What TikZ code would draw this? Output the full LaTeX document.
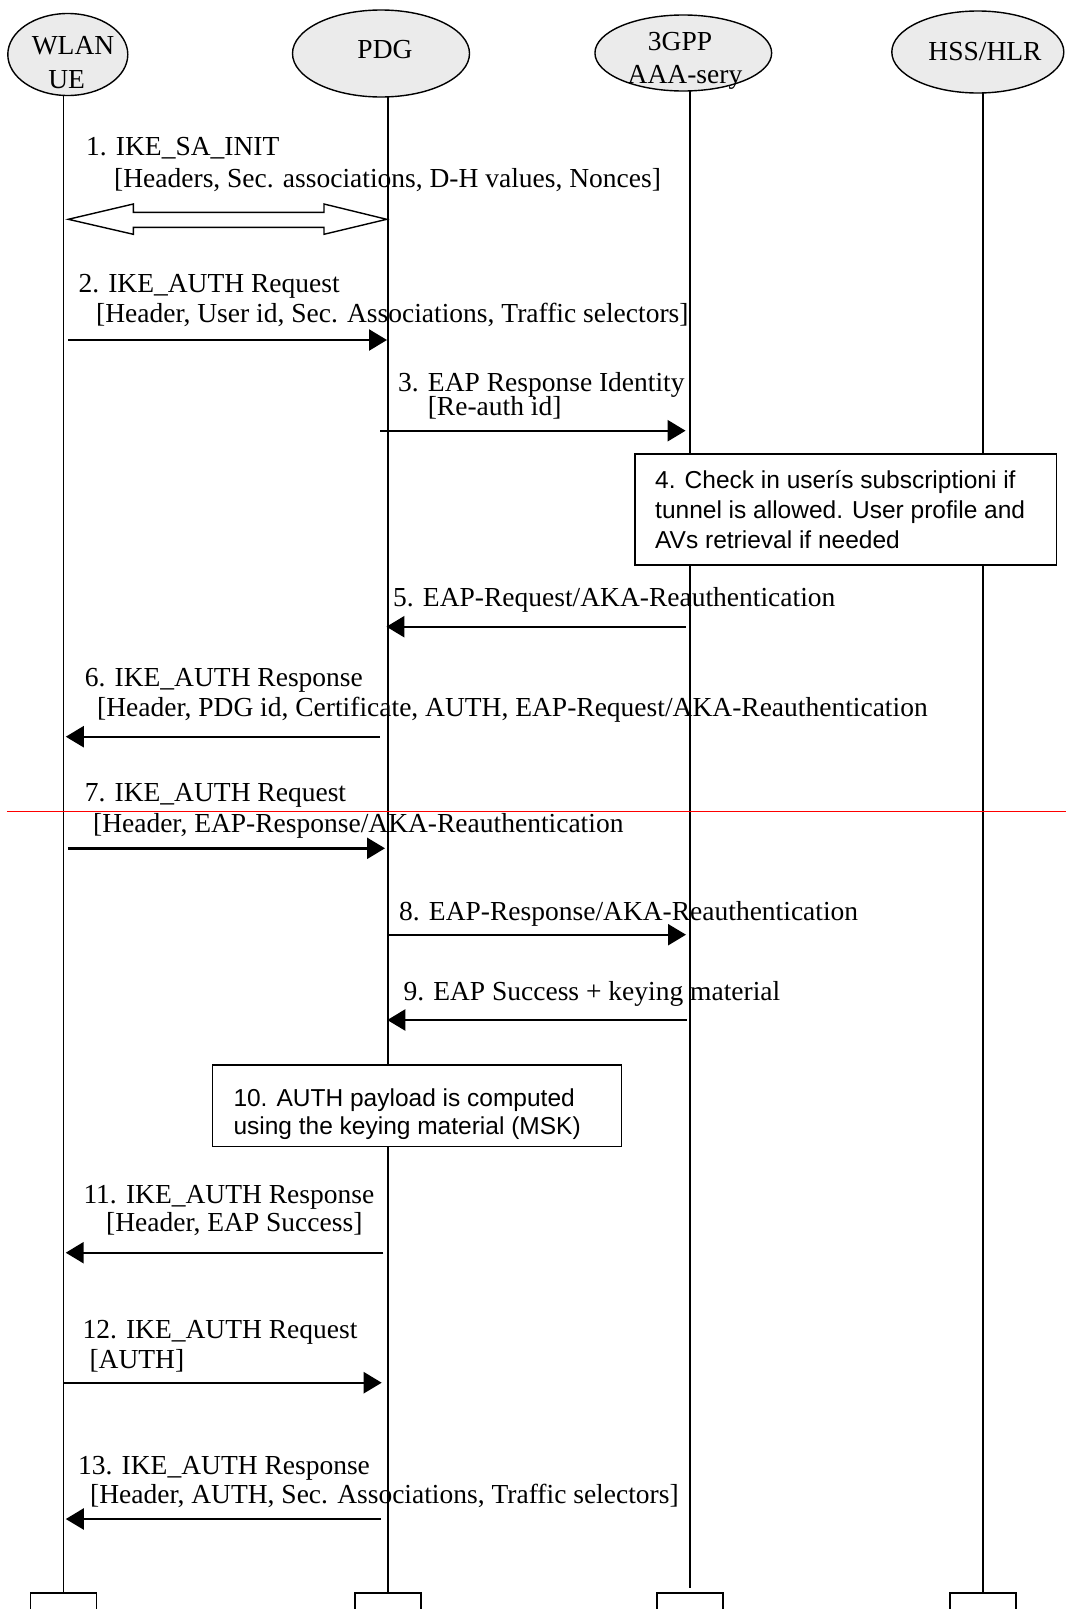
\documentclass[tikz,border=0pt]{standalone}
\usepackage{fontspec}
\setmainfont{Liberation Serif}
\setsansfont{Liberation Sans}
\usetikzlibrary{arrows.meta,shapes.geometric,calc}
\definecolor{actorgray}{RGB}{235,235,235}
\begin{document}
\begin{tikzpicture}[x=1pt,y=-1pt,
  lifeline/.style={line width=1.4pt},
  actor/.style={ellipse,draw,line width=1.4pt,fill=actorgray,inner sep=0pt},
  nametxt/.style={anchor=base,inner sep=0pt,font=\fontsize{27.5}{30}\selectfont},
  msg/.style={anchor=base west,inner sep=0pt,font=\fontsize{27.5}{30}\selectfont},
  notebox/.style={draw,line width=1.4pt,fill=white,inner sep=0pt},
  notetxt/.style={anchor=base west,inner sep=0pt,font=\sffamily\fontsize{24.5}{30}\selectfont},
  sig/.style={line width=2.4pt,-{Triangle[length=18pt,width=21pt]}},
  endbox/.style={draw,line width=1.6pt,fill=white,minimum width=66pt,minimum height=30pt,inner sep=0pt,anchor=north},
]
\clip (0,0) rectangle (1066,1609);
\fill[white] (0,0) rectangle (1066,1609);

% lifeline coordinates
\coordinate (ueT) at (63.5,53);
\coordinate (ueB) at (63.5,1592);
\coordinate (pdgT) at (388,53);
\coordinate (pdgB) at (388,1592);
\coordinate (aaaT) at (690,53);
\coordinate (aaaB) at (690,1588);
\coordinate (hssT) at (983,50);
\coordinate (hssB) at (983,1592);

\draw[lifeline] (ueT) -- (ueB);
\draw[lifeline] (pdgT) -- (pdgB);
\draw[lifeline] (aaaT) -- (aaaB);
\draw[lifeline] (hssT) -- (hssB);

% actors
\node[actor,minimum width=120pt,minimum height=82pt] (ue) at (67.8,54.5) {};
\node[actor,minimum width=177pt,minimum height=87pt] (pdg) at (381,53.5) {};
\node[actor,minimum width=176.7pt,minimum height=76pt] (aaa) at (683.3,53) {};
\node[actor,minimum width=172pt,minimum height=82pt] (hss) at (977.8,52) {};

\node[nametxt] (ue1) at (73,54) {WLAN};
\node[nametxt] (ue2) at (66.7,88) {UE};
\node[nametxt] (pdg1) at (385,58) {PDG};
\node[nametxt] (aaa1) at (680,50.7) {3GPP};
\node[nametxt] (aaa2) at (685,83.5) {AAA-sery};
\node[nametxt] (hss1) at (985,60) {HSS/HLR};

% notes
\node[notebox,minimum width=421.7pt,minimum height=111pt] (n4) at (845.85,509.5) {};
\node[notetxt] (n4a) at (655,488) {4. Check in userís subscriptioni if};
\node[notetxt] (n4b) at (655,518.5) {tunnel is allowed. User profile and};
\node[notetxt] (n4c) at (655,548) {AVs retrieval if needed};

\node[notebox,minimum width=409.4pt,minimum height=81.7pt] (n10) at (417,1105.85) {};
\node[notetxt] (n10a) at (233.3,1106) {10. AUTH payload is computed};
\node[notetxt] (n10b) at (233.3,1134) {using the keying material (MSK)};

% message 1: hollow double arrow
\coordinate (m1s) at (68.3,219.3);
\coordinate (m1e) at (386.7,219.3);
\draw[line width=1.4pt,fill=white,line join=miter]
  (m1s) -- (133.3,204) -- (133.3,212.3) -- (324,212.3) -- (324,204) -- (m1e)
  -- (324,234.3) -- (324,227.3) -- (133.3,227.3) -- (133.3,234.3) -- cycle;
\node[msg] (m1a) at (86,155) {1. IKE\_SA\_INIT};
\node[msg] (m1b) at (114,187.5) {[Headers, Sec. associations, D-H values, Nonces]};

% message 2
\coordinate (m2s) at (68,340);
\coordinate (m2e) at (387,340);
\draw[sig] (m2s) -- (m2e);
\node[msg] (m2a) at (78.3,292.7) {2. IKE\_AUTH Request};
\node[msg] (m2b) at (96,322.7) {[Header, User id, Sec. Associations, Traffic selectors]};

% message 3
\coordinate (m3s) at (380,430.7);
\coordinate (m3e) at (685.6,430.7);
\draw[sig] (m3s) -- (m3e);
\node[msg] (m3a) at (398,391.7) {3. EAP Response Identity};
\node[msg] (m3b) at (427.6,415.5) {[Re-auth id]};

% message 5
\coordinate (m5s) at (686,626.7);
\coordinate (m5e) at (386.4,626.7);
\draw[sig] (m5s) -- (m5e);
\node[msg] (m5a) at (393,606.7) {5. EAP-Request/AKA-Reauthentication};

% message 6
\coordinate (m6s) at (379.7,736.7);
\coordinate (m6e) at (65.8,736.7);
\draw[sig] (m6s) -- (m6e);
\node[msg] (m6a) at (84.7,686.7) {6. IKE\_AUTH Response};
\node[msg] (m6b) at (97,716.7) {[Header, PDG id, Certificate, AUTH, EAP-Request/AKA-Reauthentication};

% message 7
\coordinate (m7s) at (67.8,848.3);
\coordinate (m7e) at (385,848.3);
\draw[sig] (m7s) -- (m7e);
\node[msg] (m7a) at (84.7,801.7) {7. IKE\_AUTH Request};
\node[msg] (m7b) at (92.9,832) {[Header, EAP-Response/AKA-Reauthentication};

% message 8
\coordinate (m8s) at (388,934.7);
\coordinate (m8e) at (686,934.7);
\draw[sig] (m8s) -- (m8e);
\node[msg] (m8a) at (399,920) {8. EAP-Response/AKA-Reauthentication};

% message 9
\coordinate (m9s) at (686.7,1020);
\coordinate (m9e) at (387.3,1020);
\draw[sig] (m9s) -- (m9e);
\node[msg] (m9a) at (403.3,1000) {9. EAP Success + keying material};

% message 11
\coordinate (m11s) at (383.3,1252.7);
\coordinate (m11e) at (65.7,1252.7);
\draw[sig] (m11s) -- (m11e);
\node[msg] (m11a) at (83.3,1203) {11. IKE\_AUTH Response};
\node[msg] (m11b) at (106,1231.7) {[Header, EAP Success]};

% message 12
\coordinate (m12s) at (63.3,1382.7);
\coordinate (m12e) at (381.7,1382.7);
\draw[sig] (m12s) -- (m12e);
\node[msg] (m12a) at (82.3,1338) {12. IKE\_AUTH Request};
\node[msg] (m12b) at (89.3,1368) {[AUTH]};

% message 13
\coordinate (m13s) at (381,1519);
\coordinate (m13e) at (65.8,1519);
\draw[sig] (m13s) -- (m13e);
\node[msg] (m13a) at (78,1474.5) {13. IKE\_AUTH Response};
\node[msg] (m13b) at (90,1503) {[Header, AUTH, Sec. Associations, Traffic selectors]};

% red line
\coordinate (rl1) at (6.8,811.7);
\coordinate (rl2) at (1066,811.7);
\draw[red,line width=1.4pt] (rl1) -- (rl2);

% end boxes
\node[endbox] (ueEnd) at (ueB) {};
\node[endbox] (pdgEnd) at (pdgB) {};
\node[endbox] (aaaEnd) at ($(aaaB)+(0,4)$) {};
\node[endbox] (hssEnd) at (hssB) {};
\end{tikzpicture}
\end{document}
